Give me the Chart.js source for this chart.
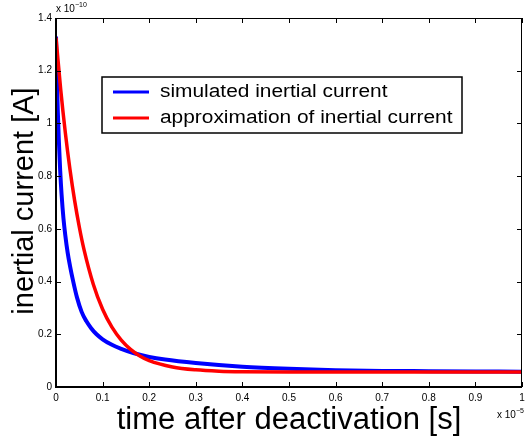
<!DOCTYPE html>
<html>
<head>
<meta charset="utf-8">
<script src="https://cdn.jsdelivr.net/npm/chart.js@4.4.1/dist/chart.umd.min.js"></script>
<style>
  html, body { margin: 0; padding: 0; background: #fff; }
  #wrap { width: 525px; height: 441px; }
</style>
</head>
<body>
<div id="wrap"><canvas id="chart" width="525" height="441"></canvas></div>
<script>
// time in units of 1e-5 s, current in units of 1e-10 A
const simTime = [0, 0.002, 0.004, 0.006, 0.009, 0.012, 0.016, 0.02, 0.025, 0.03, 0.037, 0.045, 0.055, 0.065, 0.075, 0.087, 0.1, 0.12, 0.14, 0.166, 0.2, 0.234, 0.3, 0.4, 0.5, 0.6, 0.7, 0.8, 0.9, 1.0];
const simCurrent = [1.33, 1.16, 1.04, 0.94, 0.82, 0.73, 0.64, 0.575, 0.51, 0.46, 0.4, 0.34, 0.285, 0.25, 0.224, 0.2, 0.181, 0.16, 0.145, 0.129, 0.114, 0.104, 0.091, 0.077, 0.069, 0.064, 0.061, 0.06, 0.059, 0.058];

const approxTime = [0, 0.01, 0.02, 0.03, 0.04, 0.05, 0.06, 0.08, 0.1, 0.12, 0.14, 0.16, 0.18, 0.2, 0.25, 0.3, 0.35, 0.4, 0.5, 0.6, 0.7, 0.8, 0.9, 1.0];
const approxCurrent = [1.325, 1.13, 0.965, 0.825, 0.707, 0.607, 0.522, 0.39, 0.295, 0.227, 0.178, 0.143, 0.118, 0.1, 0.076, 0.065, 0.06, 0.058, 0.057, 0.057, 0.057, 0.057, 0.057, 0.057];

const xTickLabels = ['0', '0.1', '0.2', '0.3', '0.4', '0.5', '0.6', '0.7', '0.8', '0.9', '1'];
const yTickLabels = ['0', '0.2', '0.4', '0.6', '0.8', '1', '1.2', '1.4'];

const seriesNames = ['simulated inertial current', 'approximation of inertial current'];
const seriesColors = ['#0000ff', '#ff0000'];
const xTitle = 'time after deactivation [s]';
const yTitle = 'inertial current [A]';

function toPoints(xs, ys) {
    return xs.map((x, i) => ({ x: x, y: ys[i] }));
}

const FONT = '"Liberation Sans", Arial, Helvetica, sans-serif';

// MATLAB style box with inward ticks, titles, exponent labels and legend
const matlabBox = {
    id: 'matlabBox',
    afterDraw(chart) {
        const ctx = chart.ctx;
        const a = chart.chartArea;
        const xs = chart.scales.x;
        const ys = chart.scales.y;
        const tl = 5;
        ctx.save();
        ctx.strokeStyle = '#000';
        ctx.lineWidth = 1;
        ctx.beginPath();
        xs.ticks.forEach(t => {
            const px = Math.round(xs.getPixelForValue(t.value)) + 0.5;
            ctx.moveTo(px, a.bottom); ctx.lineTo(px, a.bottom - tl);
            ctx.moveTo(px, a.top); ctx.lineTo(px, a.top + tl);
        });
        ys.ticks.forEach(t => {
            const py = Math.round(ys.getPixelForValue(t.value)) + 0.5;
            ctx.moveTo(a.left, py); ctx.lineTo(a.left + tl, py);
            ctx.moveTo(a.right, py); ctx.lineTo(a.right - tl, py);
        });
        ctx.stroke();
        // box
        ctx.strokeRect(Math.round(a.left) + 0.5, Math.round(a.top) + 0.5,
            Math.round(a.right - a.left) - 1, Math.round(a.bottom - a.top));
        ctx.lineWidth = 2;
        ctx.beginPath();
        ctx.moveTo(a.left, a.top); ctx.lineTo(a.left, a.bottom); ctx.lineTo(a.right, a.bottom);
        ctx.stroke();

        // axis titles
        ctx.fillStyle = '#000';
        ctx.textAlign = 'center';
        ctx.textBaseline = 'alphabetic';
        ctx.font = '31px ' + FONT;
        ctx.fillText(xTitle, (a.left + a.right) / 2, 429);
        ctx.save();
        ctx.translate(33, 201);
        ctx.rotate(-Math.PI / 2);
        ctx.font = '29px ' + FONT;
        ctx.fillText(yTitle, 0, 0);
        ctx.restore();

        // exponent labels
        ctx.textAlign = 'left';
        ctx.font = '10px ' + FONT;
        ctx.fillText('x 10', a.left, a.top - 6);
        let w = ctx.measureText('x 10').width;
        ctx.font = '7px ' + FONT;
        ctx.fillText('\u221210', a.left + w, a.top - 11);

        ctx.font = '10px ' + FONT;
        ctx.fillText('x 10', 497, 418);
        w = ctx.measureText('x 10').width;
        ctx.font = '7px ' + FONT;
        ctx.fillText('\u22125', 497 + w, 413);

        // legend
        const lx = 102, ly = 77, lw = 360, lh = 56;
        ctx.fillStyle = '#fff';
        ctx.fillRect(lx, ly, lw, lh);
        ctx.lineWidth = 1.5;
        ctx.strokeStyle = '#000';
        ctx.strokeRect(lx, ly, lw, lh);
        const rows = [92, 118];
        seriesNames.forEach((name, i) => {
            ctx.strokeStyle = seriesColors[i];
            ctx.lineWidth = 3;
            ctx.beginPath();
            ctx.moveTo(113, rows[i]); ctx.lineTo(149, rows[i]);
            ctx.stroke();
            ctx.save();
            ctx.scale(1.16, 1);
            ctx.fillStyle = '#000';
            ctx.font = '18px ' + FONT;
            ctx.textBaseline = 'middle';
            ctx.fillText(name, 160 / 1.16, rows[i]);
            ctx.restore();
        });
        ctx.restore();
    }
};

const ctx = document.getElementById('chart').getContext('2d');
new Chart(ctx, {
    type: 'scatter',
    data: {
        datasets: [
            {
                label: seriesNames[1],
                data: toPoints(approxTime, approxCurrent),
                showLine: true,
                borderColor: seriesColors[1],
                borderWidth: 3.5,
                pointRadius: 0,
                cubicInterpolationMode: 'monotone',
                order: 0
            },
            {
                label: seriesNames[0],
                data: toPoints(simTime, simCurrent),
                showLine: true,
                borderColor: seriesColors[0],
                borderWidth: 4,
                pointRadius: 0,
                cubicInterpolationMode: 'monotone',
                order: 1
            }
        ]
    },
    options: {
        responsive: false,
        animation: false,
        devicePixelRatio: 1,
        layout: { padding: { top: 18, right: 3, left: 0, bottom: 0 } },
        plugins: {
            legend: { display: false },
            tooltip: { enabled: false }
        },
        scales: {
            x: {
                type: 'linear',
                min: 0,
                max: 1,
                grid: { display: false, drawTicks: false },
                border: { display: false },
                ticks: {
                    stepSize: 0.1,
                    padding: 5,
                    color: '#000',
                    font: { family: FONT, size: 10 },
                    maxRotation: 0,
                    autoSkip: false,
                    callback: (v, i) => xTickLabels[i]
                },
                afterFit: s => { s.height = 54; s.paddingRight = 0; s.paddingLeft = 0; }
            },
            y: {
                type: 'linear',
                min: 0,
                max: 1.4,
                grid: { display: false, drawTicks: false },
                border: { display: false },
                ticks: {
                    stepSize: 0.2,
                    padding: 4,
                    color: '#000',
                    font: { family: FONT, size: 10 },
                    autoSkip: false,
                    callback: (v, i) => yTickLabels[i]
                },
                afterFit: s => { s.width = 56; s.paddingTop = 0; s.paddingBottom = 0; }
            }
        }
    },
    plugins: [matlabBox]
});
</script>
</body>
</html>
